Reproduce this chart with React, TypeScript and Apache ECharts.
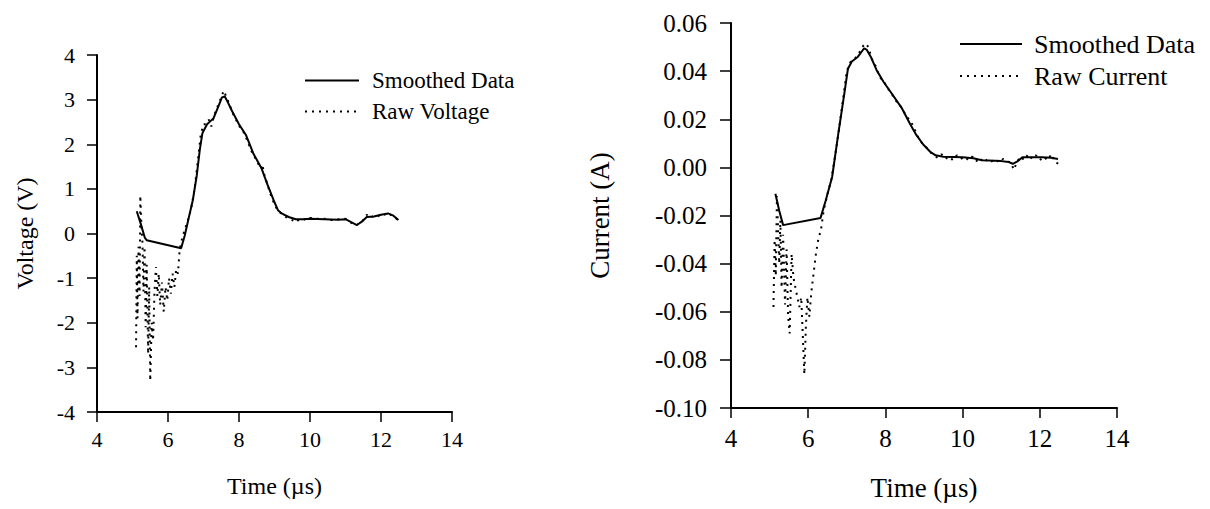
import React, { useEffect, useRef } from "react";
import * as echarts from "echarts";

// ---- Data (time in µs) ----
const voltageSmoothed: [number, number][] = [
  [5.12, 0.5], [5.22, 0.25], [5.35, -0.1], [5.4, -0.15], [6.37, -0.33], [6.47, -0.05],
  [6.57, 0.3], [6.7, 0.75], [6.81, 1.3], [6.9, 1.9], [6.97, 2.25], [7.1, 2.45],
  [7.28, 2.58], [7.42, 2.85], [7.52, 3.05], [7.6, 3.07], [7.68, 2.95], [7.8, 2.75],
  [8.0, 2.45], [8.2, 2.2], [8.4, 1.8], [8.64, 1.45], [8.8, 1.1], [9.0, 0.7],
  [9.1, 0.52], [9.2, 0.45], [9.4, 0.37], [9.6, 0.32], [9.8, 0.32], [10.0, 0.33],
  [10.4, 0.32], [10.8, 0.31], [11.0, 0.32], [11.2, 0.24], [11.32, 0.19], [11.45, 0.26],
  [11.6, 0.37], [11.8, 0.38], [12.0, 0.42], [12.2, 0.45], [12.35, 0.4], [12.49, 0.3],
];

const voltageRaw: [number, number][] = [
  [5.1, -2.55], [5.12, -0.5], [5.14, -1.9], [5.17, -0.3], [5.2, -1.4], [5.22, 0.85],
  [5.25, 0.2], [5.28, -0.2], [5.31, -1.3], [5.34, -0.3], [5.37, -2.1], [5.4, -0.7],
  [5.44, -2.7], [5.47, -1.2], [5.5, -3.3], [5.54, -2.0], [5.58, -2.4], [5.62, -1.3],
  [5.66, -0.75], [5.7, -1.4], [5.74, -0.9], [5.78, -1.6], [5.83, -1.1], [5.88, -1.75],
  [5.93, -1.2], [5.98, -1.5], [6.03, -1.0], [6.08, -1.35], [6.13, -0.9], [6.18, -1.2],
  [6.23, -0.8], [6.28, -0.9], [6.33, -0.35], [6.4, -0.1], [6.5, 0.15], [6.58, 0.35],
  [6.65, 0.55], [6.75, 1.0], [6.85, 1.7], [6.92, 2.2], [7.0, 2.45], [7.08, 2.45],
  [7.15, 2.55], [7.22, 2.4], [7.3, 2.65], [7.4, 2.85], [7.5, 3.05], [7.57, 3.2],
  [7.65, 3.05], [7.75, 2.85], [7.85, 2.65], [7.95, 2.5], [8.05, 2.35], [8.15, 2.25],
  [8.25, 2.05], [8.35, 1.85], [8.45, 1.7], [8.55, 1.55], [8.62, 1.45], [8.66, 1.55],
  [8.7, 1.35], [8.8, 1.1], [8.9, 0.85], [9.0, 0.65], [9.1, 0.5], [9.2, 0.45],
  [9.3, 0.38], [9.4, 0.33], [9.5, 0.3], [9.6, 0.25], [9.7, 0.32], [9.8, 0.33],
  [9.9, 0.3], [10.0, 0.35], [10.2, 0.33], [10.4, 0.33], [10.6, 0.3], [10.8, 0.32],
  [11.0, 0.33], [11.1, 0.27], [11.2, 0.22], [11.3, 0.18], [11.4, 0.24], [11.5, 0.3],
  [11.6, 0.42], [11.7, 0.35], [11.8, 0.4], [11.9, 0.38], [12.0, 0.43], [12.1, 0.42],
  [12.2, 0.47], [12.3, 0.4], [12.4, 0.36], [12.5, 0.28],
];

const currentSmoothed: [number, number][] = [
  [5.15, -0.011], [5.25, -0.018], [5.35, -0.024], [6.32, -0.021], [6.45, -0.014],
  [6.62, -0.004], [6.78, 0.014], [6.93, 0.03], [7.03, 0.041], [7.13, 0.044],
  [7.29, 0.046], [7.45, 0.0495], [7.52, 0.0488], [7.62, 0.046], [7.77, 0.0405],
  [7.95, 0.0356], [8.15, 0.031], [8.43, 0.0245], [8.64, 0.018], [8.8, 0.0135],
  [8.98, 0.0095], [9.16, 0.0065], [9.3, 0.005], [9.5, 0.0044], [10.0, 0.0042],
  [10.28, 0.0038], [10.5, 0.003], [11.0, 0.0026], [11.2, 0.0022], [11.3, 0.0015],
  [11.42, 0.0025], [11.55, 0.0042], [12.05, 0.0042], [12.3, 0.004], [12.47, 0.0035],
];

const currentRaw: [number, number][] = [
  [5.1, -0.058], [5.13, -0.03], [5.16, -0.045], [5.19, -0.012], [5.22, -0.026],
  [5.25, -0.04], [5.28, -0.022], [5.31, -0.05], [5.35, -0.028], [5.4, -0.057],
  [5.44, -0.034], [5.48, -0.062], [5.52, -0.069], [5.57, -0.036], [5.62, -0.046],
  [5.67, -0.05], [5.72, -0.054], [5.77, -0.058], [5.82, -0.054], [5.86, -0.07],
  [5.9, -0.086], [5.94, -0.066], [5.98, -0.054], [6.03, -0.062], [6.08, -0.052],
  [6.14, -0.044], [6.2, -0.036], [6.26, -0.03], [6.33, -0.026], [6.4, -0.018],
  [6.5, -0.011], [6.6, -0.005], [6.7, 0.005], [6.8, 0.016], [6.9, 0.028],
  [7.0, 0.04], [7.1, 0.044], [7.2, 0.045], [7.3, 0.047], [7.4, 0.05],
  [7.48, 0.0515], [7.56, 0.05], [7.65, 0.045], [7.75, 0.042], [7.85, 0.0375],
  [7.95, 0.036], [8.05, 0.033], [8.15, 0.031], [8.25, 0.028], [8.35, 0.0265],
  [8.45, 0.024], [8.55, 0.021], [8.65, 0.0195], [8.75, 0.016], [8.85, 0.0125],
  [8.95, 0.01], [9.05, 0.0085], [9.15, 0.0065], [9.25, 0.005], [9.35, 0.004],
  [9.45, 0.0055], [9.55, 0.0035], [9.65, 0.0045], [9.75, 0.003], [9.85, 0.005],
  [9.95, 0.0035], [10.05, 0.0045], [10.15, 0.003], [10.25, 0.0045], [10.35, 0.0025],
  [10.45, 0.004], [10.55, 0.002], [10.65, 0.0035], [10.75, 0.0025], [10.85, 0.0035],
  [10.95, 0.002], [11.05, 0.0035], [11.15, 0.0025], [11.25, 0.002], [11.33, -0.001],
  [11.4, 0.002], [11.5, 0.0045], [11.6, 0.003], [11.7, 0.0055], [11.8, 0.0035],
  [11.9, 0.005], [12.0, 0.003], [12.1, 0.0045], [12.2, 0.003], [12.3, 0.0055],
  [12.4, 0.002], [12.5, 0.0015],
];

const FONT = "Liberation Serif";
const INK = "#000";

function xAxisCfg(grid: number, fs: number, titleFs: number, gap: number, margin: number) {
  return {
    gridIndex: grid,
    type: "value" as const,
    min: 4,
    max: 14,
    interval: 2,
    name: "Time (µs)",
    nameLocation: "middle" as const,
    nameGap: gap,
    nameTextStyle: { fontSize: titleFs, fontFamily: FONT, color: INK },
    axisLine: { onZero: false, lineStyle: { color: INK, width: 2 } },
    axisTick: { length: 10, lineStyle: { color: INK, width: 1.5 } },
    axisLabel: { fontSize: fs, fontFamily: FONT, color: INK, margin },
    splitLine: { show: false },
  };
}

export default function App() {
  const ref = useRef<HTMLDivElement>(null);
  useEffect(() => {
    if (!ref.current) return;
    const chart = echarts.init(ref.current, null, { renderer: "svg" });
    const option = {
      animation: false,
      backgroundColor: "#fff",
      textStyle: { fontFamily: FONT, color: INK },
      grid: [
        { left: 97, top: 55, width: 355, height: 357 },
        { left: 731, top: 23, width: 386, height: 385 },
      ],
      legend: [
        {
          data: ["Smoothed Data", "Raw Voltage"],
          orient: "vertical",
          left: 299,
          top: 64,
          itemWidth: 54,
          itemHeight: 14,
          itemGap: 8,
          selectedMode: false,
          itemStyle: { opacity: 0 },
          textStyle: { fontSize: 23, fontFamily: FONT, color: INK, padding: [0, 0, 0, 8] },
        },
        {
          data: ["Smoothed Data", "Raw Current"],
          orient: "vertical",
          left: 954,
          top: 26,
          itemWidth: 62,
          itemHeight: 14,
          itemGap: 6,
          selectedMode: false,
          itemStyle: { opacity: 0 },
          textStyle: { fontSize: 26, fontFamily: FONT, color: INK, padding: [0, 0, 0, 7] },
        },
      ],
      xAxis: [xAxisCfg(0, 22, 24, 62, 16), xAxisCfg(1, 25, 27, 66, 18)],
      yAxis: [
        {
          gridIndex: 0,
          type: "value",
          min: -4,
          max: 4,
          interval: 1,
          name: "Voltage (V)",
          nameLocation: "middle",
          nameGap: 60,
          nameTextStyle: { fontSize: 24, fontFamily: FONT, color: INK },
          axisLine: { show: true, onZero: false, lineStyle: { color: INK, width: 2 } },
          axisTick: { show: true, length: 10, lineStyle: { color: INK, width: 1.5 } },
          axisLabel: { fontSize: 22, fontFamily: FONT, color: INK, margin: 22 },
          splitLine: { show: false },
        },
        {
          gridIndex: 1,
          type: "value",
          min: -0.1,
          max: 0.06,
          interval: 0.02,
          name: "Current (A)",
          nameLocation: "middle",
          nameGap: 118,
          nameTextStyle: { fontSize: 27, fontFamily: FONT, color: INK },
          axisLine: { show: true, onZero: false, lineStyle: { color: INK, width: 2 } },
          axisTick: { show: true, length: 11, lineStyle: { color: INK, width: 1.5 } },
          axisLabel: {
            fontSize: 25,
            fontFamily: FONT,
            color: INK,
            margin: 24,
            formatter: (v: number) => v.toFixed(2),
          },
          splitLine: { show: false },
        },
      ],
      series: [
        {
          name: "Smoothed Data",
          type: "line",
          xAxisIndex: 0,
          yAxisIndex: 0,
          data: voltageSmoothed,
          symbol: "none",
          lineStyle: { color: INK, width: 2 },
          itemStyle: { color: INK },
        },
        {
          name: "Raw Voltage",
          type: "line",
          xAxisIndex: 0,
          yAxisIndex: 0,
          data: voltageRaw,
          symbol: "none",
          lineStyle: { color: INK, width: 2, type: [2, 5] },
          itemStyle: { color: INK },
        },
        {
          name: "Smoothed Data",
          type: "line",
          xAxisIndex: 1,
          yAxisIndex: 1,
          data: currentSmoothed,
          symbol: "none",
          lineStyle: { color: INK, width: 2 },
          itemStyle: { color: INK },
        },
        {
          name: "Raw Current",
          type: "line",
          xAxisIndex: 1,
          yAxisIndex: 1,
          data: currentRaw,
          symbol: "none",
          lineStyle: { color: INK, width: 2, type: [2, 5] },
          itemStyle: { color: INK },
        },
      ],
    };
    chart.setOption(option as any);
    return () => chart.dispose();
  }, []);
  return (
    <div
      ref={ref}
      style={{ position: "absolute", left: 0, top: 0, width: 1210, height: 509, background: "#fff" }}
    />
  );
}
